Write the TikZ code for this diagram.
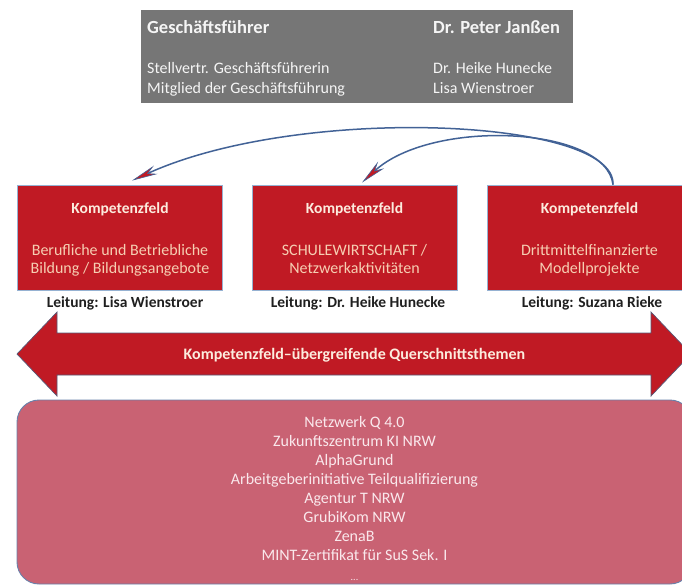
\documentclass[tikz,border=0pt]{standalone}
\usepackage{fontspec}
\setmainfont{Carlito}
\usetikzlibrary{arrows.meta}
\definecolor{kred}{RGB}{192,26,36}
\definecolor{kgray}{RGB}{118,118,118}
\definecolor{kpink}{RGB}{201,98,115}
\definecolor{kblue}{RGB}{66,98,150}
\definecolor{kedge}{RGB}{150,178,210}
\definecolor{kdark}{RGB}{85,90,120}
\definecolor{kcream}{RGB}{252,236,222}
\definecolor{kpeach}{RGB}{246,206,178}
\definecolor{klist}{RGB}{250,232,236}
\begin{document}
\begin{tikzpicture}[x=1pt,y=-1pt,
  kbox/.style={draw=kedge,line width=0.8pt,fill=kred,minimum width=205pt,minimum height=105pt,inner sep=0pt},
  ktitle/.style={font=\fontsize{15.5}{18}\selectfont\bfseries,text=kcream,anchor=base,inner sep=0pt},
  kbody/.style={font=\fontsize{16}{18}\selectfont,text=kpeach,anchor=base,inner sep=0pt},
  lead/.style={font=\fontsize{15.5}{18}\selectfont\bfseries,text=black!88,anchor=base,inner sep=0pt},
  gbold/.style={font=\fontsize{18.5}{22}\selectfont\bfseries,text=white!96!black,anchor=base west,inner sep=0pt},
  greg/.style={font=\fontsize{16}{19}\selectfont,text=white!96!black,anchor=base west,inner sep=0pt},
  listtxt/.style={font=\fontsize{16}{19}\selectfont,text=klist,anchor=base,inner sep=0pt},
  curve/.style={draw=kblue,line width=1.5pt,-{Stealth[length=26pt,width=9pt,fill=kred,line width=0.6pt]}}
]
\useasboundingbox (0,0) rectangle (682,587);
\clip (0,0) rectangle (682,587);

% management box
\node[fill=kgray,minimum width=432pt,minimum height=93pt,inner sep=0pt] (gbox) at (357,56.5) {};
\node[gbold] (g1) at (147,33) {Geschäftsführer};
\node[gbold] (g2) at (433,33) {Dr. Peter Janßen};
\node[greg] (g3) at (147,73.5) {Stellvertr. Geschäftsführerin};
\node[greg] (g4) at (147,93.5) {Mitglied der Geschäftsführung};
\node[greg] (g5) at (433,73.5) {Dr. Heike Hunecke};
\node[greg] (g6) at (433,93.5) {Lisa Wienstroer};

% competence fields
\node[kbox] (k1) at (120,237.5) {};
\node[kbox] (k2) at (354.5,237.5) {};
\node[kbox] (k3) at (589.5,237.5) {};
\node[ktitle] (k1t) at (120,213) {Kompetenzfeld};
\node[ktitle] (k2t) at (354.5,213) {Kompetenzfeld};
\node[ktitle] (k3t) at (589.5,213) {Kompetenzfeld};
\node[kbody] (k1a) at (120,255.5) {Berufliche und Betriebliche};
\node[kbody] (k1b) at (120,273) {Bildung / Bildungsangebote};
\node[kbody] (k2a) at (354.5,255.5) {SCHULEWIRTSCHAFT /};
\node[kbody] (k2b) at (354.5,273) {Netzwerkaktivitäten};
\node[kbody] (k3a) at (589.5,255.5) {Drittmittelfinanzierte};
\node[kbody] (k3b) at (589.5,273) {Modellprojekte};
\node[lead] (l1) at (125,307.5) {Leitung: Lisa Wienstroer};
\node[lead] (l2) at (358,307.5) {Leitung: Dr. Heike Hunecke};
\node[lead] (l3) at (592,307.5) {Leitung: Suzana Rieke};

% curved arrows
\coordinate (c0) at ([xshift=23.5pt]k3.north);
\coordinate (c1) at ([xshift=12pt,yshift=4pt]k1.north);
\coordinate (c2) at ([xshift=7.5pt,yshift=2pt]k2.north);
\draw[curve] (c0) .. controls (616,118) and (300,104) .. (c1);
\draw[curve] (c0) .. controls (606,126) and (432,118) .. (c2);

% double arrow
\draw[fill=kred,draw=kdark,line width=0.7pt]
  (17,354) -- (57,312) -- (57,333) -- (651,333) -- (651,312) -- (691,354)
  -- (651,396) -- (651,375) -- (57,375) -- (57,396) -- cycle;
\node[font=\fontsize{16}{19}\selectfont\bfseries,text=kcream,anchor=base,inner sep=0pt] (qt) at (354.5,359.5) {Kompetenzfeld–übergreifende Querschnittsthemen};

% project list
\node[fill=kpink,draw=kblue!80,line width=0.9pt,rounded corners=22pt,minimum width=675pt,minimum height=184pt,inner sep=0pt] (lbox) at (354.5,492) {};
\foreach \t [count=\i] in {Netzwerk Q 4.0,Zukunftszentrum KI NRW,AlphaGrund,Arbeitgeberinitiative Teilqualifizierung,Agentur T NRW,GrubiKom NRW,ZenaB,MINT-Zertifikat für SuS Sek. I}
  \node[listtxt] (p\i) at (354.5,{427.5+19*(\i-1)}) {\t};
\node[listtxt,font=\fontsize{10}{12}\selectfont] (p9) at (354.5,580) {...};
\end{tikzpicture}
\end{document}
